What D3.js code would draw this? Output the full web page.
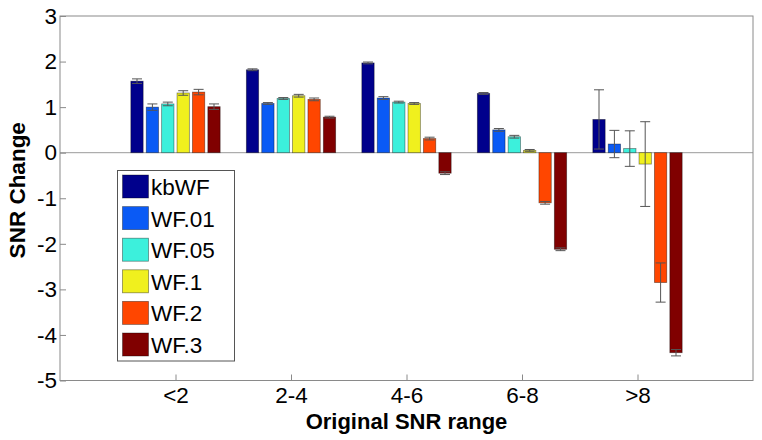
<!DOCTYPE html>
<html><head><meta charset="utf-8">
<script src="https://cdn.jsdelivr.net/npm/d3@7"></script>
<style>body{margin:0;background:#fff}svg{display:block}</style>
</head><body>
<svg id="c" width="762" height="440"></svg>
<script>
const categories = ["<2", "2-4", "4-6", "6-8", ">8"];
const seriesNames = ["kbWF", "WF.01", "WF.05", "WF.1", "WF.2", "WF.3"];
const seriesColors = ["#00008c", "#0a5af5", "#3cf0dc", "#f0f01e", "#ff4600", "#800000"];
const kbWF  = [1.57, 1.82, 1.97, 1.30, 0.73];
const WF01  = [1.00, 1.08, 1.20, 0.50, 0.19];
const WF05  = [1.07, 1.19, 1.11, 0.35, 0.09];
const WF1   = [1.31, 1.25, 1.08, 0.05, -0.25];
const WF2   = [1.33, 1.17, 0.31, -1.10, -2.85];
const WF3   = [1.01, 0.78, -0.45, -2.12, -4.39];
const errKbWF = [0.05, 0.02, 0.02, 0.02, 0.65];
const errWF01 = [0.07, 0.02, 0.03, 0.03, 0.30];
const errWF05 = [0.04, 0.02, 0.02, 0.03, 0.39];
const errWF1  = [0.05, 0.03, 0.02, 0.02, 0.93];
const errWF2  = [0.06, 0.03, 0.03, 0.03, 0.43];
const errWF3  = [0.06, 0.02, 0.03, 0.03, 0.07];
const yTicks = [3, 2, 1, 0, -1, -2, -3, -4, -5];

const values = [kbWF, WF01, WF05, WF1, WF2, WF3];
const errors = [errKbWF, errWF01, errWF05, errWF1, errWF2, errWF3];

const svg = d3.select("#c");
const L = 60, R = 753, T = 16, B = 380.5;
const font = "Liberation Sans, Arial, sans-serif";
const fs = 22.5;

const x = d3.scaleLinear().domain([0, 6]).range([L, R]);
const y = d3.scaleLinear().domain([-5, 3]).range([B, T]);

const slot = 0.8 / 6, bw = slot * 0.8;
const axisColor = "#8a8a8a";

// zero baseline
svg.append("line").attr("x1", L).attr("x2", R).attr("y1", y(0)).attr("y2", y(0))
  .attr("stroke", "#9a9a9a").attr("stroke-width", 1);

// bars
seriesNames.forEach((name, s) => {
  const g = svg.append("g");
  categories.forEach((c, i) => {
    const cx = (i + 1) + (s - 2.5) * slot;
    const v = values[s][i];
    g.append("rect")
      .attr("x", x(cx - bw / 2)).attr("width", x(cx + bw / 2) - x(cx - bw / 2))
      .attr("y", y(Math.max(0, v))).attr("height", Math.abs(y(v) - y(0)))
      .attr("fill", seriesColors[s]).attr("stroke", "#000").attr("stroke-opacity", 0.45).attr("stroke-width", 0.8);
  });
});

// error bars
seriesNames.forEach((name, s) => {
  categories.forEach((c, i) => {
    const cx = x((i + 1) + (s - 2.5) * slot);
    const v = values[s][i], e = errors[s][i];
    const g = svg.append("g").attr("stroke", "#555").attr("stroke-width", 1);
    g.append("line").attr("x1", cx).attr("x2", cx).attr("y1", y(v - e)).attr("y2", y(v + e));
    g.append("line").attr("x1", cx - 5).attr("x2", cx + 5).attr("y1", y(v + e)).attr("y2", y(v + e));
    g.append("line").attr("x1", cx - 5).attr("x2", cx + 5).attr("y1", y(v - e)).attr("y2", y(v - e));
  });
});

// axes box
svg.append("rect").attr("x", L).attr("y", T).attr("width", R - L).attr("height", B - T)
  .attr("fill", "none").attr("stroke", axisColor).attr("stroke-width", 1);

// y ticks
const yAxis = d3.axisLeft(y).tickValues(yTicks).tickSize(-6).tickPadding(3).tickFormat(d => String(d));
const ya = svg.append("g").attr("transform", `translate(${L},0)`).call(yAxis);
ya.select(".domain").remove();
ya.selectAll(".tick line").attr("stroke", axisColor);
ya.selectAll(".tick text").attr("font-family", font).attr("font-size", fs).attr("fill", "#000");

// x ticks
const xAxis = d3.axisBottom(x).tickValues([1, 2, 3, 4, 5]).tickSize(-6).tickPadding(7)
  .tickFormat(d => categories[d - 1]);
const xa = svg.append("g").attr("transform", `translate(0,${B})`).call(xAxis);
xa.select(".domain").remove();
xa.selectAll(".tick line").attr("stroke", axisColor);
xa.selectAll(".tick text").attr("font-family", font).attr("font-size", fs).attr("fill", "#000");

// axis labels
svg.append("text").attr("x", (L + R) / 2).attr("y", 429).attr("text-anchor", "middle")
  .attr("font-family", font).attr("font-size", 22).attr("font-weight", "bold").text("Original SNR range");
svg.append("text").attr("transform", `translate(25,${(T + B) / 2 - 8}) rotate(-90)`).attr("text-anchor", "middle")
  .attr("font-family", font).attr("font-size", fs).attr("font-weight", "bold").text("SNR Change");

// legend
const lg = svg.append("g");
lg.append("rect").attr("x", 117.5).attr("y", 170.5).attr("width", 117).attr("height", 190.5)
  .attr("fill", "#fff").attr("stroke", "#555").attr("stroke-width", 1);
seriesNames.forEach((name, s) => {
  const yy = 175 + s * 31.6;
  lg.append("rect").attr("x", 122.5).attr("y", yy).attr("width", 26).attr("height", 23)
    .attr("fill", seriesColors[s]).attr("stroke", "#000").attr("stroke-opacity", 0.45).attr("stroke-width", 0.8);
  lg.append("text").attr("x", 151).attr("y", yy + 20).attr("font-family", font).attr("font-size", fs)
    .attr("fill", "#000").text(name);
});
</script>
</body></html>
